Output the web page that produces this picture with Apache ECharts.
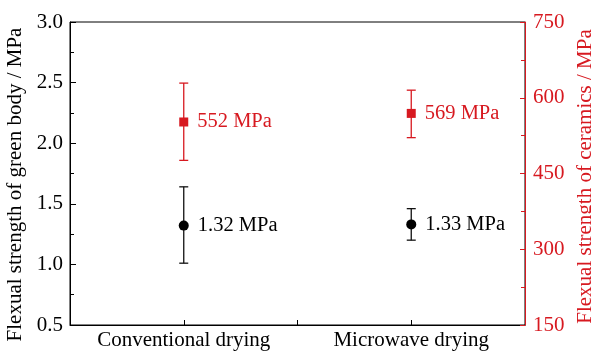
<!DOCTYPE html>
<html>
<head>
  <meta charset="utf-8" />
  <title>Flexural strength</title>
  <script src="https://cdn.jsdelivr.net/npm/echarts@6/dist/echarts.min.js"></script>
</head>
<body style="margin:0">
  <div id="main" style="width: 591px; height: 354px"></div>
  <script>
    let categories = ["Conventional drying", "Microwave drying"];
    let greenMean = [1.32, 1.33];
    let greenLow = [1.01, 1.20];
    let greenHigh = [1.64, 1.46];
    let ceramicMean = [552, 569];
    let ceramicLow = [476, 521];
    let ceramicHigh = [629, 615];

    const RED = "#d71920";
    const FONT = "Liberation Serif";

    function errorBar(color) {
      return function (params, api) {
        let x = api.value(0);
        let top = api.coord([x, api.value(2)]);
        let bot = api.coord([x, api.value(1)]);
        let w = 4.5;
        let style = { stroke: color, lineWidth: 1.3 };
        return {
          type: "group",
          children: [
            { type: "line", shape: { x1: top[0], y1: top[1], x2: bot[0], y2: bot[1] }, style: style },
            { type: "line", shape: { x1: top[0] - w, y1: top[1], x2: top[0] + w, y2: top[1] }, style: style },
            { type: "line", shape: { x1: bot[0] - w, y1: bot[1], x2: bot[0] + w, y2: bot[1] }, style: style },
          ],
        };
      };
    }

    option = {
      animation: false,
      grid: {
        left: 70,
        right: 66,
        top: 22,
        bottom: 29,
        outerBoundsMode: "none",
        containLabel: false,
        show: true,
        borderColor: "#000",
        borderWidth: 1,
      },
      xAxis: {
        type: "value",
        min: -0.5,
        max: 1.5,
        interval: 0.5,
        splitLine: { show: false },
        axisLine: { onZero: false, lineStyle: { color: "#000", width: 1 } },
        axisTick: { inside: true, length: 5, lineStyle: { color: "#000" } },
        axisLabel: {
          color: "#000",
          fontFamily: FONT,
          fontSize: 21,
          margin: 5,
          showMinLabel: false,
          showMaxLabel: false,
          formatter: function (v) {
            return Number.isInteger(v) ? categories[v] : "";
          },
        },
      },
      yAxis: [
        {
          type: "value",
          min: 0.5,
          max: 3.0,
          interval: 0.5,
          position: "left",
          name: "Flexual strength of green body / MPa",
          nameLocation: "middle",
          nameGap: 41,
          nameTextStyle: { color: "#000", fontFamily: FONT, fontSize: 21, padding: [0, 22, 0, 0] },
          splitLine: { show: false },
          axisLine: { show: true, onZero: false, lineStyle: { color: "#000" } },
          axisTick: { inside: true, length: 6, lineStyle: { color: "#000" } },
          minorTick: { show: true, splitNumber: 2, length: 4, lineStyle: { color: "#000" } },
          axisLabel: {
            color: "#000",
            fontFamily: FONT,
            fontSize: 21,
            margin: 7,
            formatter: (v) => v.toFixed(1),
          },
        },
        {
          type: "value",
          min: 150,
          max: 750,
          interval: 150,
          position: "right",
          name: "Flexual strength of ceramics / MPa",
          nameLocation: "middle",
          nameGap: 46,
          nameRotate: 90,
          nameTextStyle: { color: RED, fontFamily: FONT, fontSize: 21, padding: [0, 6, 0, 0] },
          splitLine: { show: false },
          axisLine: { show: true, onZero: false, lineStyle: { color: RED } },
          axisTick: { inside: true, length: 5, lineStyle: { color: RED } },
          minorTick: { show: true, splitNumber: 2, length: 4, lineStyle: { color: RED } },
          axisLabel: { color: RED, fontFamily: FONT, fontSize: 21, margin: 8 },
        },
      ],
      series: [
        {
          type: "custom",
          yAxisIndex: 0,
          renderItem: errorBar("#111"),
          data: categories.map((c, i) => [i, greenLow[i], greenHigh[i]]),
          z: 2,
        },
        {
          type: "custom",
          yAxisIndex: 1,
          renderItem: errorBar(RED),
          data: categories.map((c, i) => [i, ceramicLow[i], ceramicHigh[i]]),
          z: 2,
        },
        {
          type: "scatter",
          yAxisIndex: 0,
          symbol: "circle",
          symbolSize: 10,
          itemStyle: { color: "#000", opacity: 1 },
          data: categories.map((c, i) => [i, greenMean[i]]),
          label: {
            show: true,
            position: "right",
            distance: 9,
            color: "#000",
            fontFamily: FONT,
            fontSize: 20.5,
            formatter: (p) => p.value[1].toFixed(2) + " MPa",
          },
          z: 3,
        },
        {
          type: "scatter",
          yAxisIndex: 1,
          symbol: "rect",
          symbolSize: 9,
          itemStyle: { color: RED, opacity: 1 },
          data: categories.map((c, i) => [i, ceramicMean[i]]),
          label: {
            show: true,
            position: "right",
            distance: 9,
            color: RED,
            fontFamily: FONT,
            fontSize: 20.5,
            formatter: (p) => p.value[1] + " MPa",
          },
          z: 3,
        },
      ],
    };
    chartMain = echarts.init(document.getElementById("main"));
    chartMain.setOption(option);
  </script>
</body>
</html>
